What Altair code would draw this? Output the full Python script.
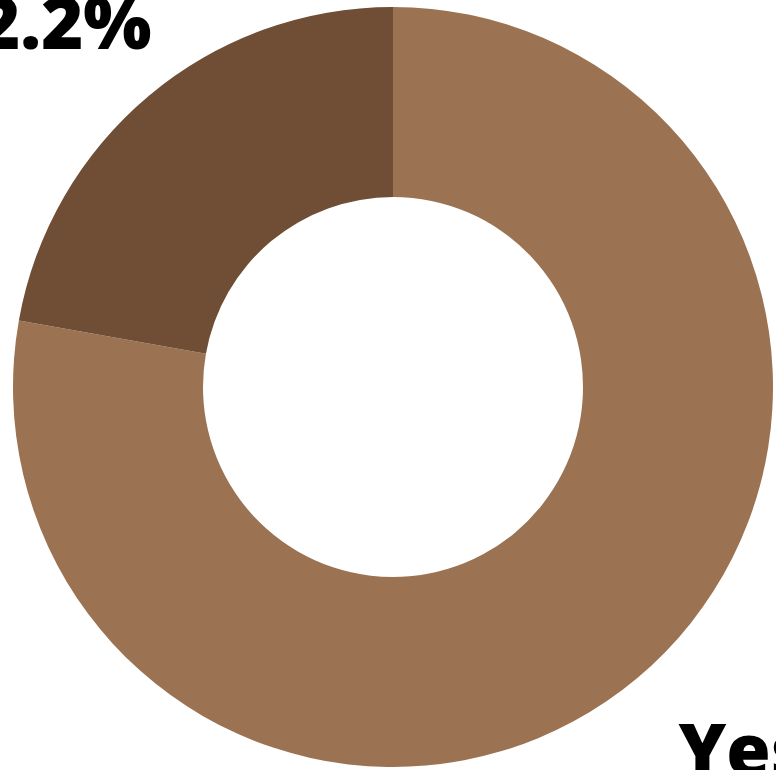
import altair as alt
import pandas as pd

categories = ["Yes", "No"]
values = [77.8, 22.2]
order = [1, 2]
colors = ["#9C7352", "#6F4E35"]

df = pd.DataFrame({"category": categories, "value": values, "order": order})
df["pct"] = df["value"].map(lambda v: f"{v:.1f}%")

base = alt.Chart(df).encode(
    theta=alt.Theta("value:Q", stack=True),
    order=alt.Order("order:Q"),
)

arc = base.mark_arc(outerRadius=380, innerRadius=190).encode(
    color=alt.Color("category:N", scale=alt.Scale(domain=categories, range=colors), legend=None)
)

txt = dict(radius=525, font="Open Sans", fontWeight=800, fontSize=72,
           align="center", baseline="middle", color="#000000")
name_text = base.mark_text(dy=-35, dx=13, **txt).encode(text="category:N")
pct_text = base.mark_text(dy=42, dx=-12, **txt).encode(text="pct:N")

chart = alt.layer(arc, name_text, pct_text).properties(
    width=766, height=766,
    padding={"left": 10, "top": 4, "right": 0, "bottom": 0},
    autosize=alt.AutoSizeParams(type="none"),
).configure_view(stroke=None)

chart.save("out.html", embed_options={"renderer": "svg", "actions": False})
